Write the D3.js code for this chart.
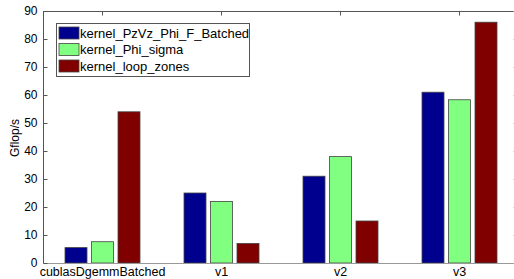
<!DOCTYPE html>
<html>
<head>
<meta charset="utf-8">
<script src="https://cdn.jsdelivr.net/npm/d3@7"></script>
<style>
  body { margin: 0; background: #fff; }
  svg { display: block; font-family: "Liberation Sans", Arial, sans-serif; }
</style>
</head>
<body>
<svg width="514" height="279"></svg>
<script>
// data
var categories = ["cublasDgemmBatched", "v1", "v2", "v3"];
var seriesNames = ["kernel_PzVz_Phi_F_Batched", "kernel_Phi_sigma", "kernel_loop_zones"];
var batched = [5.5, 25, 31, 61];
var phiSigma = [7.6, 22, 38, 58.3];
var loopZones = [54, 7, 15, 86];
var colors = ["#00008f", "#80ff80", "#800000"];
var yTicks = [0, 10, 20, 30, 40, 50, 60, 70, 80, 90];

var series = [batched, phiSigma, loopZones];

var plotL = 43, plotR = 519, plotT = 11, plotB = 263;

var svg = d3.select("svg");

var x = d3.scaleBand()
    .domain(categories)
    .range([plotL, plotR]);

var y = d3.scaleLinear()
    .domain([0, 90])
    .range([plotB, plotT]);

var barW = 22, step = 26.5;

// bars
series.forEach(function(vals, si) {
  svg.append("g")
    .selectAll("rect")
    .data(vals)
    .enter()
    .append("rect")
      .attr("x", (d, i) => x(categories[i]) + x.bandwidth() / 2 + (si - 1) * step - barW / 2)
      .attr("y", d => y(d))
      .attr("width", barW)
      .attr("height", d => y(0) - y(d))
      .attr("fill", colors[si])
      .attr("stroke", "#444")
      .attr("stroke-width", 0.8);
});

// axes box
var axisColor = "#555";
svg.append("line").attr("x1", plotL).attr("x2", plotR).attr("y1", plotT + 0.5).attr("y2", plotT + 0.5)
  .attr("stroke", axisColor);
svg.append("line").attr("x1", plotL).attr("x2", plotR).attr("y1", plotB + 0.5).attr("y2", plotB + 0.5)
  .attr("stroke", "#999");
svg.append("line").attr("x1", plotL + 0.5).attr("x2", plotL + 0.5).attr("y1", plotT).attr("y2", plotB)
  .attr("stroke", axisColor);

// y axis
var yAxis = svg.append("g")
    .attr("transform", "translate(" + (plotL + 0.5) + ",0)")
    .call(d3.axisLeft(y).tickValues(yTicks).tickSize(-4).tickPadding(6));
yAxis.select(".domain").remove();
yAxis.selectAll("line").attr("stroke", axisColor);
yAxis.selectAll("text").style("font-size", "12px").attr("fill", "#000")
  .style("font-family", "'Liberation Sans', Arial, sans-serif");

// right-side ticks (mostly cut off)
svg.append("g")
    .attr("transform", "translate(" + (plotR - 0.5) + ",0)")
    .call(d3.axisRight(y).tickValues(yTicks).tickSize(-5).tickFormat(""))
  .call(g => g.select(".domain").remove())
  .selectAll("line").attr("stroke", "#aaa");

// x axis labels below
var xAxis = svg.append("g")
    .attr("transform", "translate(0," + plotB + ")")
    .call(d3.axisBottom(x).tickSize(0).tickPadding(4));
xAxis.select(".domain").remove();
xAxis.selectAll("text").style("font-size", "12.5px").attr("fill", "#000")
  .style("font-family", "'Liberation Sans', Arial, sans-serif");

// top ticks pointing down
var xTop = svg.append("g")
    .attr("transform", "translate(0," + (plotT + 0.5) + ")")
    .call(d3.axisTop(x).tickSize(-4).tickFormat(""));
xTop.select(".domain").remove();
xTop.selectAll("line").attr("stroke", axisColor);

// y label
svg.append("text")
  .attr("transform", "translate(19,138) rotate(-90)")
  .attr("text-anchor", "middle")
  .style("font-size", "12px")
  .text("Gflop/s");

// legend
var legend = svg.append("g");
legend.append("rect")
  .attr("x", 56.5).attr("y", 23.5).attr("width", 193).attr("height", 53)
  .attr("fill", "#fff").attr("stroke", "#555");
seriesNames.forEach(function(name, i) {
  legend.append("rect")
    .attr("x", 59).attr("y", 27 + i * 16.5)
    .attr("width", 20).attr("height", 12)
    .attr("fill", colors[i]).attr("stroke", "#444").attr("stroke-width", 0.8);
  legend.append("text")
    .attr("x", 80).attr("y", 37.5 + i * 16.5)
    .style("font-size", "13px")
    .text(name);
});
</script>
</body>
</html>
